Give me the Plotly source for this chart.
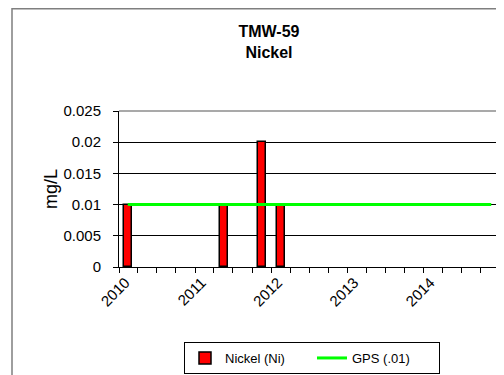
import plotly.graph_objects as go

# -----------------------------
# DATA
# -----------------------------
sample_dates = ["2010-02-15", "2011-05-18", "2011-11-16", "2012-02-15"]
nickel_mgl = [0.01, 0.01, 0.02, 0.01]

gps_dates = ["2010-02-12", "2014-11-20"]
gps_mgl = [0.01, 0.01]

year_labels = ["2010", "2011", "2012", "2013", "2014"]
quarter_ticks = [f"{y}-{m:02d}-01" for y in range(2010, 2015) for m in (1, 4, 7, 10)] + ["2015-01-01"]

# page has an 8px body margin, so figure coords = screen coords - 8
W, H = 504, 375
L, R, T, B = 111, 12, 103, 116
pw, ph = W - L - R, H - T - B

fig = go.Figure()

fig.add_trace(go.Bar(
    x=sample_dates,
    y=nickel_mgl,
    width=38 * 86400000,
    marker=dict(color="#FF0000", line=dict(color="black", width=1.5)),
    name="Nickel (Ni)"
))

fig.add_trace(go.Scatter(
    x=gps_dates,
    y=gps_mgl,
    mode="lines",
    line=dict(color="#00FF00", width=3),
    name="GPS (.01)"
))

font = dict(family="Liberation Sans, Arial, sans-serif", size=15, color="black")

fig.update_layout(
    width=W,
    height=H,
    margin=dict(l=L, r=R, t=T, b=B),
    paper_bgcolor="white",
    plot_bgcolor="white",
    font=font,
    title=dict(
        text="<b>TMW-59<br>Nickel</b>",
        x=261 / W,
        xanchor="center",
        y=1 - 29 / H,
        yanchor="top",
        font=dict(family="Liberation Sans, Arial, sans-serif", size=16, color="black")
    ),
    showlegend=True,
    legend=dict(
        orientation="h",
        xref="container",
        yref="container",
        x=304 / W,
        xanchor="center",
        y=1 - 334 / H,
        yanchor="top",
        bordercolor="black",
        borderwidth=1,
        font=dict(family="Liberation Sans, Arial, sans-serif", size=13, color="black"),
        itemwidth=30,
        entrywidth=82
    ),
    bargap=0
)

# x axis: quarterly ticks, labels each year
fig.update_xaxes(
    type="date",
    range=["2010-01-01", "2015-01-01"],
    automargin=False,
    tickmode="array",
    tickvals=[f"{y}-02-01" for y in year_labels],
    ticktext=year_labels,
    tickangle=-45,
    ticks="",
    showgrid=False,
    showline=True,
    linecolor="black",
    linewidth=1,
    minor=dict(
        tickmode="array",
        tickvals=quarter_ticks,
        ticks="outside",
        ticklen=5,
        tickcolor="black",
        showgrid=False
    )
)

fig.update_yaxes(
    range=[0, 0.025],
    dtick=0.005,
    tick0=0,
    automargin=False,
    title=dict(text="mg/L", standoff=1),
    ticks="outside",
    ticklen=5,
    tickcolor="black",
    ticklabelstandoff=9,
    showgrid=True,
    gridcolor="black",
    gridwidth=1,
    showline=True,
    linecolor="black",
    linewidth=1,
    zeroline=False
)

# gray plot-area border on top and right
fig.add_shape(type="line", xref="paper", yref="paper", x0=0, x1=1, y0=1, y1=1,
              line=dict(color="#8c8c8c", width=1.5))
fig.add_shape(type="line", xref="paper", yref="paper", x0=1, x1=1, y0=0, y1=1,
              line=dict(color="#8c8c8c", width=1.5))

# outer chart frame (runs off the right and bottom edges)
fig.add_shape(
    type="rect", xref="paper", yref="paper",
    x0=(4 - L) / pw, x1=(530 - L) / pw,
    y0=(H - B - 385) / ph, y1=(H - B - 0.75) / ph,
    line=dict(color="#7f7f7f", width=1.5)
)

fig.write_html("out.html")
